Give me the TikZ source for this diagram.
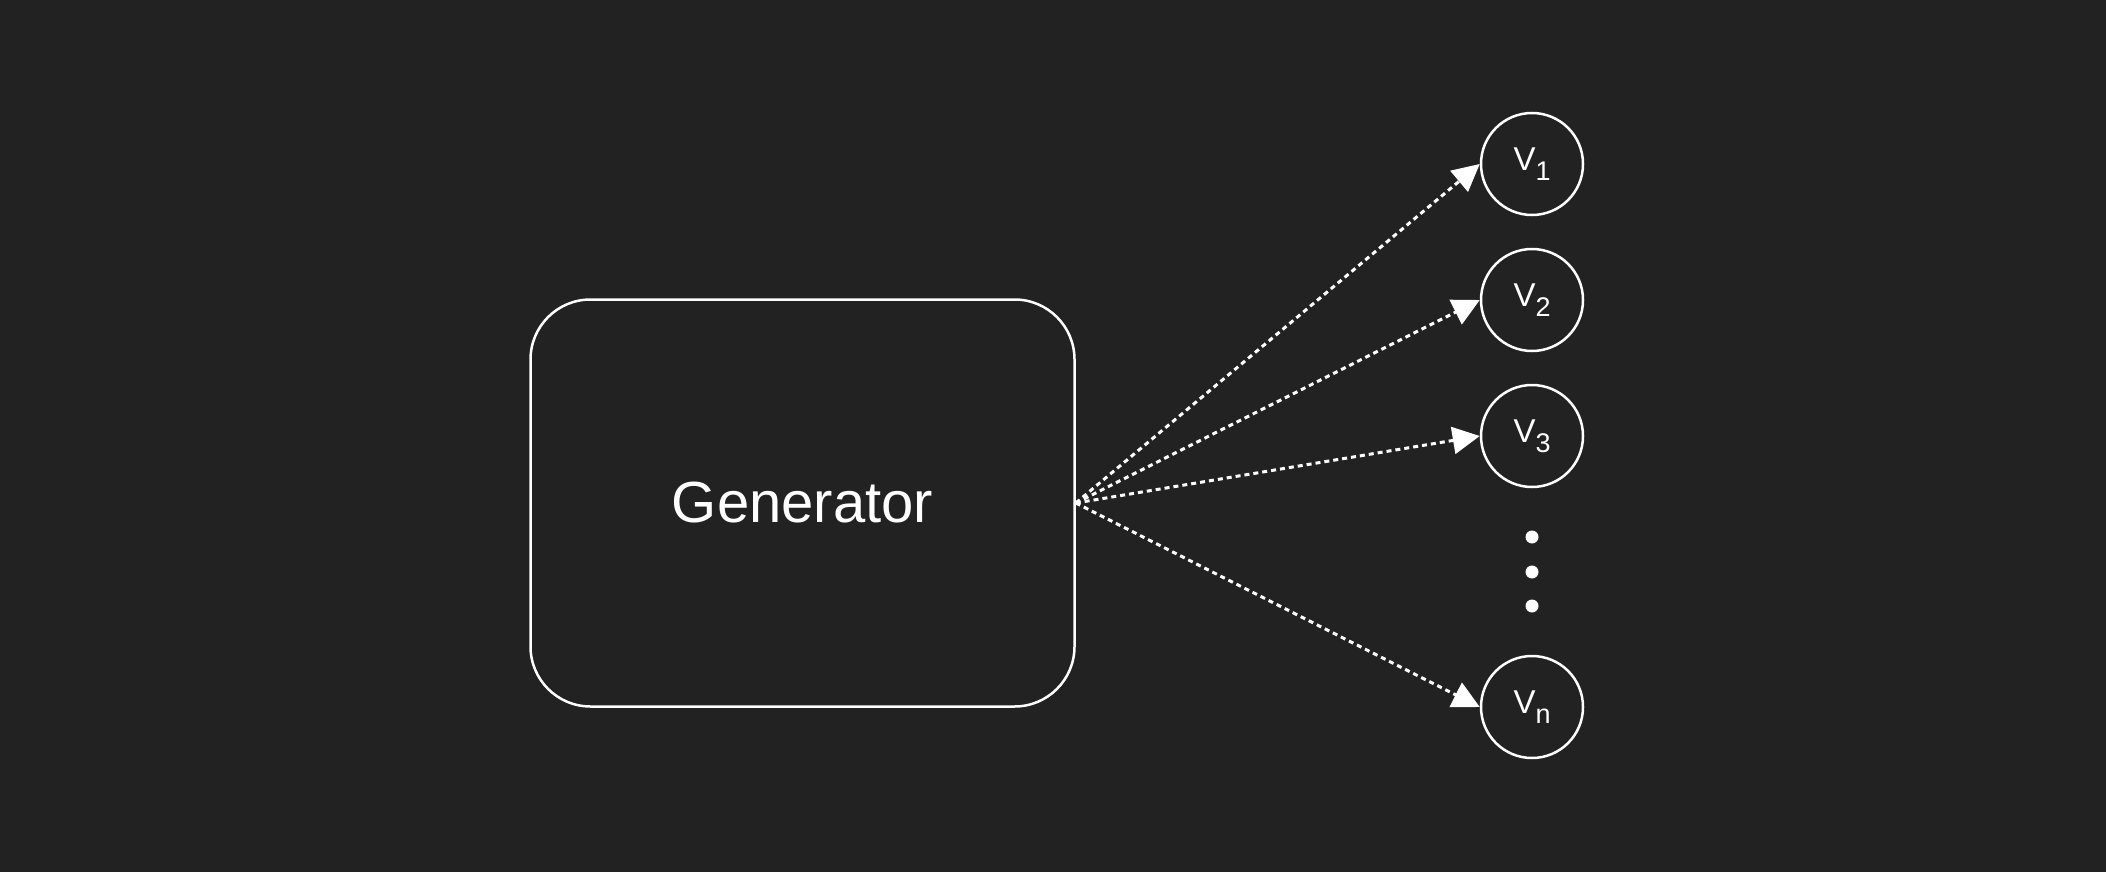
\documentclass[tikz,border=0pt]{standalone}
\usepackage{fontspec}
\setmainfont{Liberation Sans}
\usetikzlibrary{shapes,arrows.meta,positioning}
\definecolor{bgdark}{HTML}{222222}
\tikzstyle{gen} = [rectangle, draw=white, line width=2.5pt, rounded corners=60pt,
    minimum width=544pt, minimum height=407pt, text=white, font=\fontsize{58}{70}\selectfont]
\tikzstyle{vert} = [circle, draw=white, line width=2.5pt, minimum size=102pt,
    inner sep=0pt, text=white, font=\fontsize{33}{40}\selectfont]
\tikzstyle{line} = [draw=white, line width=3pt, dash pattern=on 5pt off 4pt,
    -{Triangle[length=27pt,width=27pt]}]
\newcommand{\vlab}[1]{V\raisebox{-10pt}{\fontsize{27}{27}\selectfont #1}}

\begin{document}
\begin{tikzpicture}[x=1pt, y=-1pt, node distance=136pt]
    \useasboundingbox (0,0) rectangle (2106,872);
    \fill [bgdark] (0,0) rectangle (2106,872);
    % Place nodes
    \node [gen] (gen) at (802.5,503) {Generator};
    \node [vert] (v1) at (1532,164) {\vlab{1}};
    \node [vert, below of=v1] (v2) {\vlab{2}};
    \node [vert, below of=v2] (v3) {\vlab{3}};
    \node [vert, below of=v3, node distance=271pt] (vn) {\vlab{n}};
    \foreach \y in {537,572,606}
        \fill [white] (1532,\y) circle (6.5pt);
    % Draw edges
    \path [line] (gen.east) -- (v1.west);
    \path [line] (gen.east) -- (v2.west);
    \path [line] (gen.east) -- (v3.west);
    \path [line] (gen.east) -- (vn.west);
\end{tikzpicture}
\end{document}
